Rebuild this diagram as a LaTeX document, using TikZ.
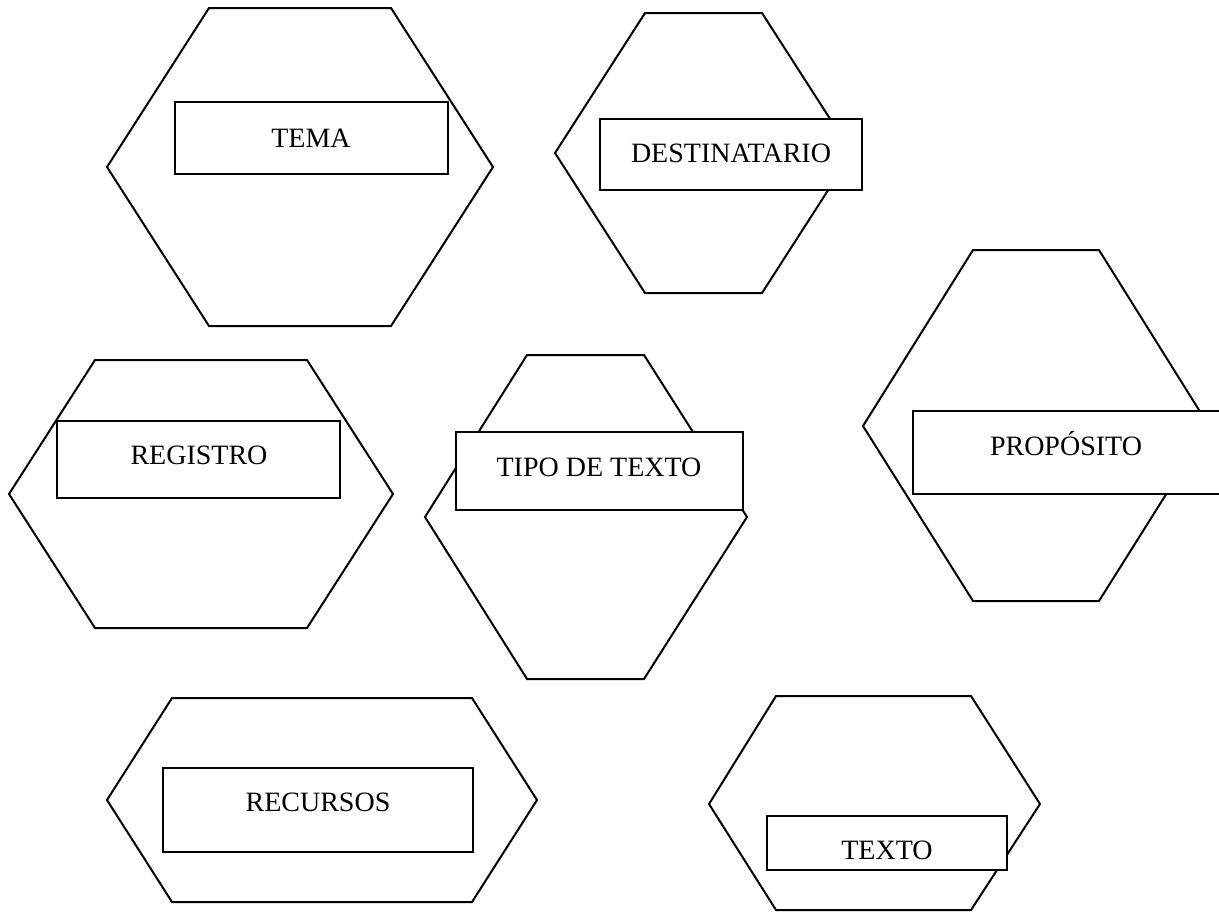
\documentclass[tikz,border=0pt]{standalone}
\usepackage{fontspec}
\setmainfont{Liberation Serif}
\begin{document}
\begin{tikzpicture}[x=1pt,y=-1pt,
  hexa/.style={draw=black,line width=2pt,line join=miter},
  box/.style={draw=black,fill=white,line width=2pt,rectangle,inner sep=0pt},
  lbl/.style={inner sep=0pt,font=\fontsize{28}{32}\selectfont}]
\clip (0,0) rectangle (1219,911);
\fill[white] (0,0) rectangle (1219,911);
% hexagons
\draw[hexa] (209,8) -- (391,8) -- (493,167) -- (391,326) -- (209,326) -- (107,167) -- cycle;
\draw[hexa] (645,13) -- (762,13) -- (852,153) -- (762,293) -- (645,293) -- (555,153) -- cycle;
\draw[hexa] (973,250) -- (1099,250) -- (1209,426) -- (1099,601) -- (973,601) -- (863,426) -- cycle;
\draw[hexa] (95,360) -- (307,360) -- (393,494) -- (307,628) -- (95,628) -- (9,494) -- cycle;
\draw[hexa] (527,355) -- (644,355) -- (747,517) -- (644,679) -- (527,679) -- (425,517) -- cycle;
\draw[hexa] (172,698) -- (472,698) -- (537,800) -- (472,902) -- (172,902) -- (107,800) -- cycle;
\draw[hexa] (776,696) -- (971,696) -- (1040,804) -- (971,910) -- (776,910) -- (709,804) -- cycle;
% boxes
\node[box,minimum width=273pt,minimum height=72pt] (btema) at (311.5,138) {};
\node[box,minimum width=262pt,minimum height=71pt] (bdest) at (731,154.5) {};
\node[box,minimum width=330pt,minimum height=83pt] (bprop) at (1078,452.5) {};
\node[box,minimum width=283pt,minimum height=77pt] (breg) at (198.5,459.5) {};
\node[box,minimum width=287pt,minimum height=78pt] (btipo) at (599.5,471) {};
\node[box,minimum width=310pt,minimum height=84pt] (brec) at (318,810) {};
\node[box,minimum width=240pt,minimum height=54pt] (btexto) at (887,843) {};
% labels
\node[lbl] (ltema) at (311,138) {TEMA};
\node[lbl] (ldest) at (731,153) {DESTINATARIO};
\node[lbl] (lprop) at (1066,444) {PROPÓSITO};
\node[lbl] (lreg) at (199,455) {REGISTRO};
\node[lbl] (ltipo) at (599,467) {TIPO DE TEXTO};
\node[lbl] (lrec) at (318,802) {RECURSOS};
\node[lbl] (ltexto) at (887,850) {TEXTO};
\end{tikzpicture}
\end{document}
